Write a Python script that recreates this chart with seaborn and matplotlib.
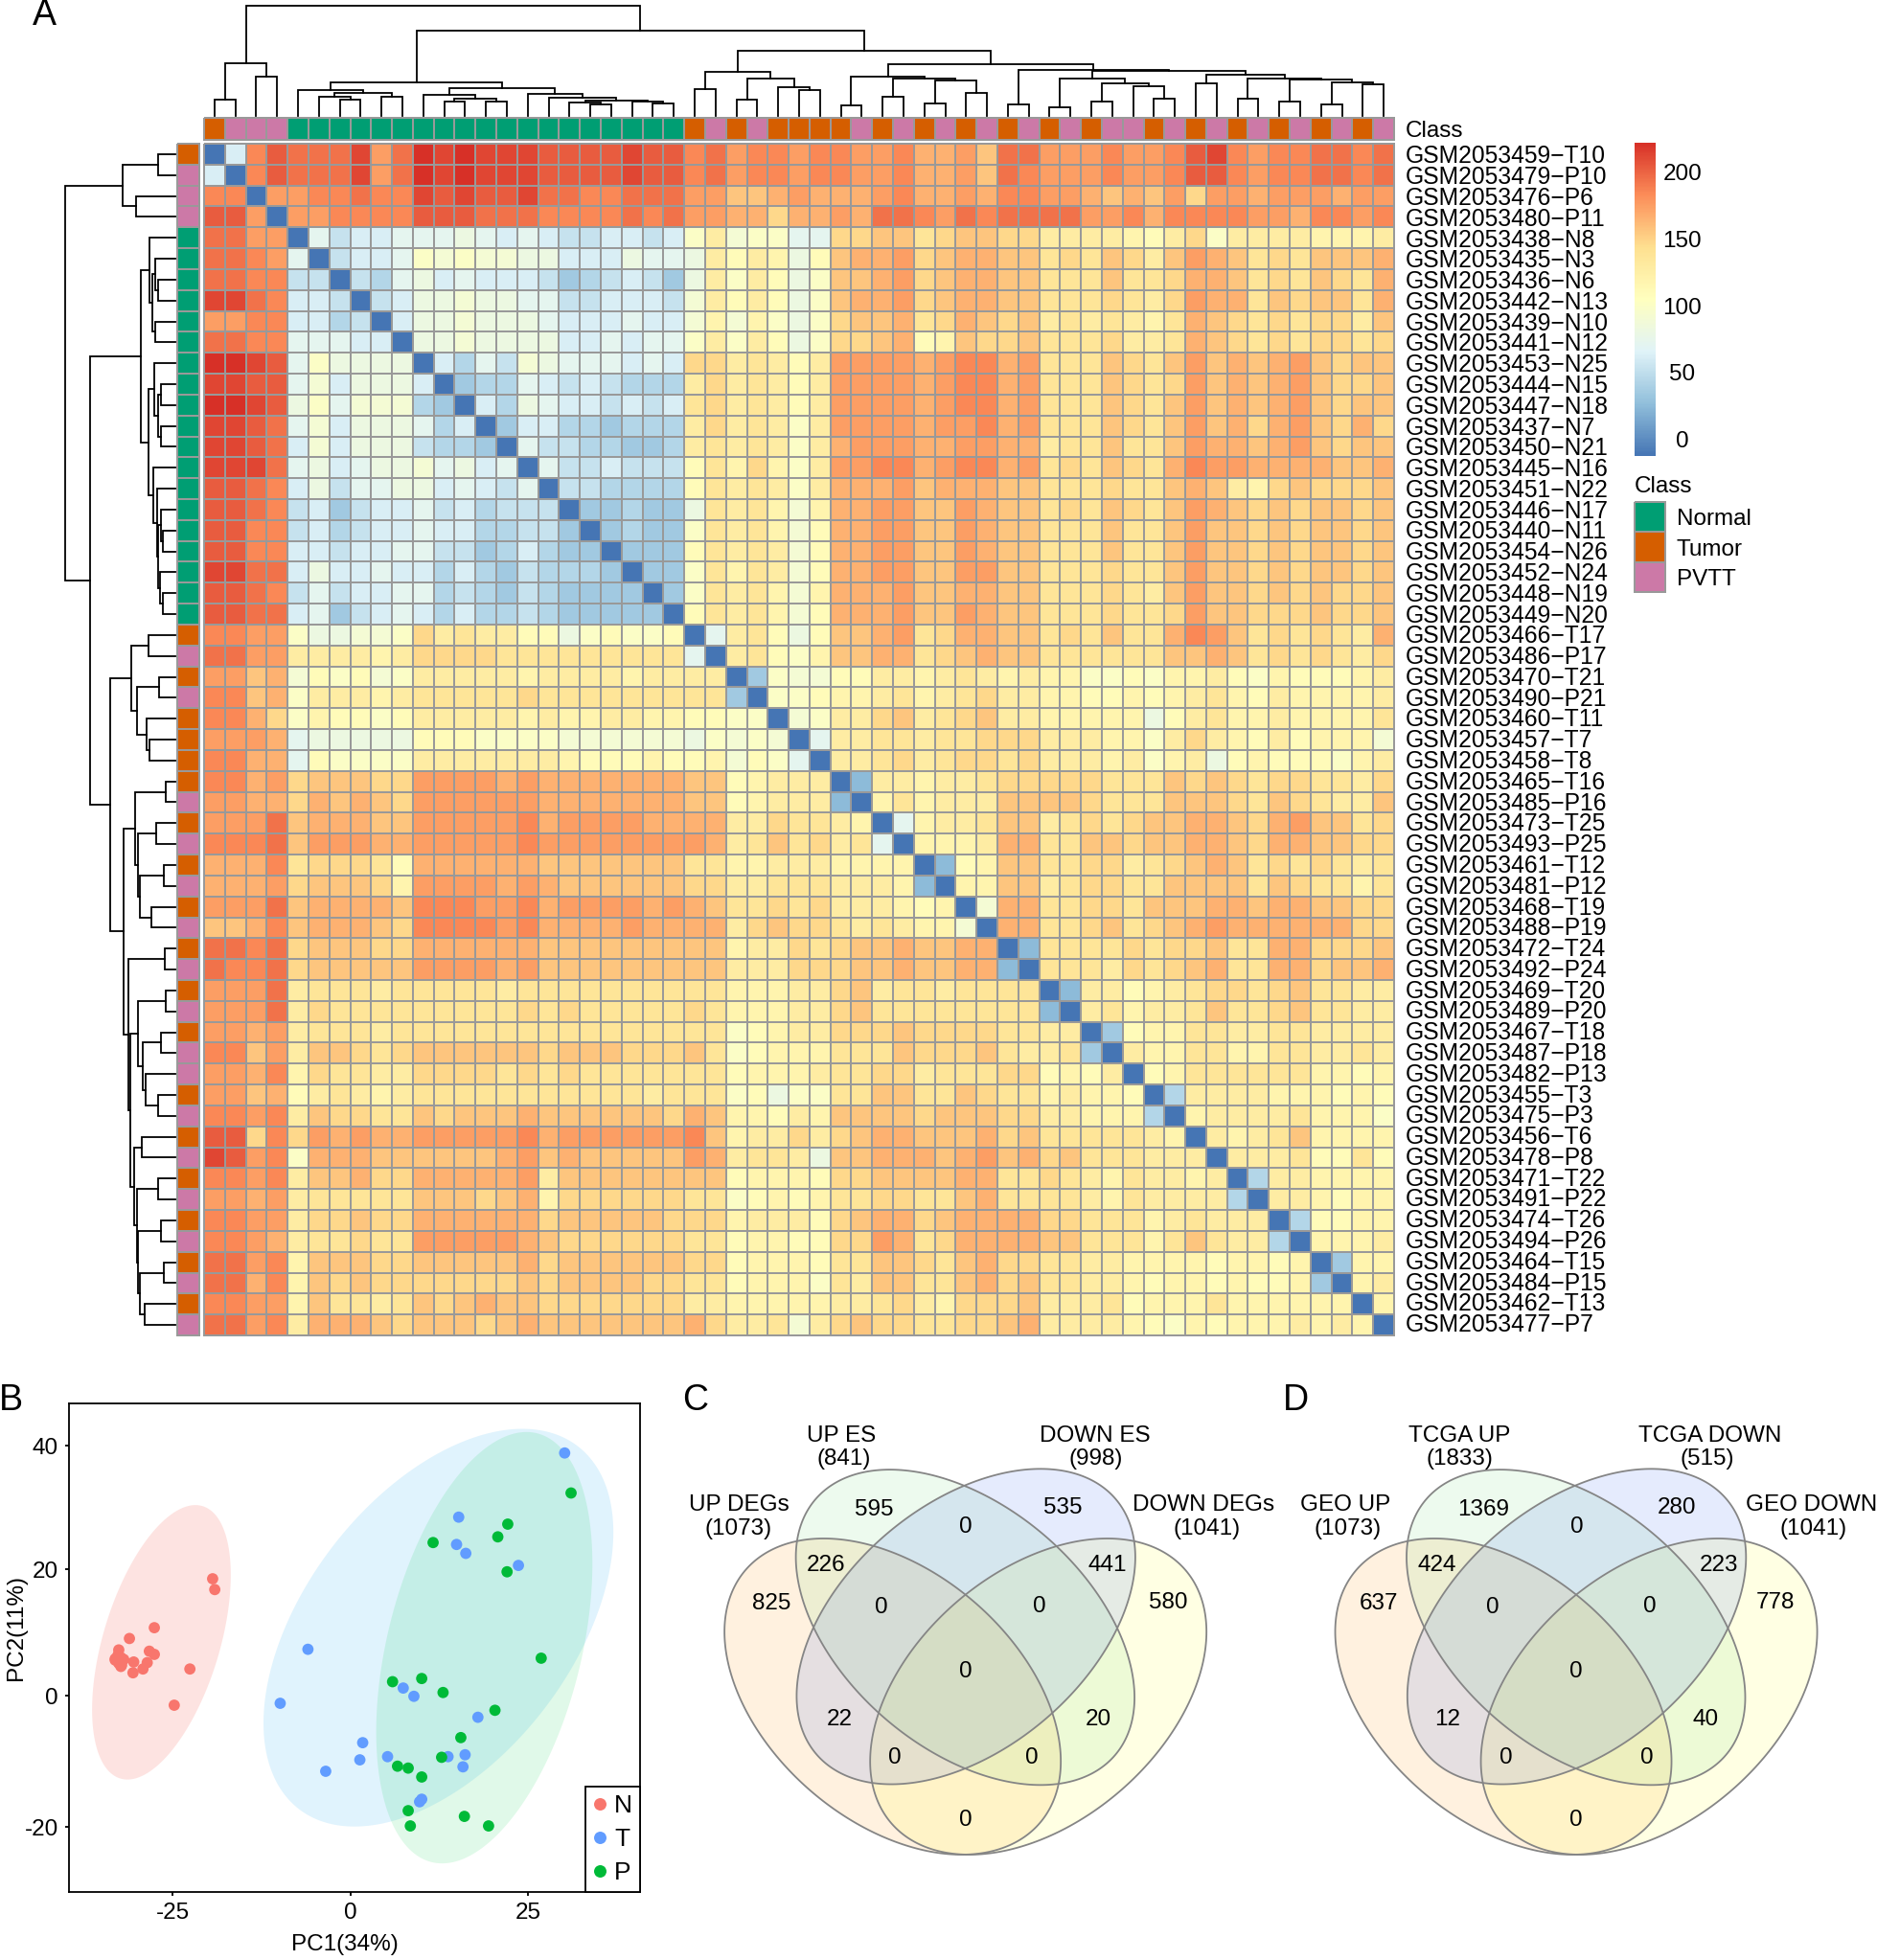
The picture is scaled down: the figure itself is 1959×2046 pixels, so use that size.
import numpy as np
import pandas as pd
import matplotlib
matplotlib.use("Agg")
import matplotlib.pyplot as plt
from matplotlib.colors import LinearSegmentedColormap, ListedColormap
import seaborn as sns

plt.rcParams['font.family'] = ['Liberation Sans', 'DejaVu Sans']
plt.rcParams['axes.unicode_minus'] = False

# ---- panel A data ----
sample_names = [
    "GSM2053459−T10", "GSM2053479−P10", "GSM2053476−P6", "GSM2053480−P11", "GSM2053438−N8", "GSM2053435−N3",
    "GSM2053436−N6", "GSM2053442−N13", "GSM2053439−N10", "GSM2053441−N12", "GSM2053453−N25", "GSM2053444−N15",
    "GSM2053447−N18", "GSM2053437−N7", "GSM2053450−N21", "GSM2053445−N16", "GSM2053451−N22", "GSM2053446−N17",
    "GSM2053440−N11", "GSM2053454−N26", "GSM2053452−N24", "GSM2053448−N19", "GSM2053449−N20", "GSM2053466−T17",
    "GSM2053486−P17", "GSM2053470−T21", "GSM2053490−P21", "GSM2053460−T11", "GSM2053457−T7", "GSM2053458−T8",
    "GSM2053465−T16", "GSM2053485−P16", "GSM2053473−T25", "GSM2053493−P25", "GSM2053461−T12", "GSM2053481−P12",
    "GSM2053468−T19", "GSM2053488−P19", "GSM2053472−T24", "GSM2053492−P24", "GSM2053469−T20", "GSM2053489−P20",
    "GSM2053467−T18", "GSM2053487−P18", "GSM2053482−P13", "GSM2053455−T3", "GSM2053475−P3", "GSM2053456−T6",
    "GSM2053478−P8", "GSM2053471−T22", "GSM2053491−P22", "GSM2053474−T26", "GSM2053494−P26", "GSM2053464−T15",
    "GSM2053484−P15", "GSM2053462−T13", "GSM2053477−P7",
]

# upper triangle of the sample distance matrix, each row starts at the diagonal
# one letter per cell: a=0, b=9, c=18 ... z=225
dist_upper = [
    "aivx wwwyuw zyzyyy xxxxyxx vwuvvuv vuuvttus wwuuuvuuv xyvuvvwwvw",
    "avx wwwyuw zyzyyy xxxxyxx vwuvvuv vuuvttus wvuuuvuuv xxvuvvwwvw",
    "au uvvwvv yxyxxy wwvvwww uusstut ttuvttut vvuutstsu ruutuuutuu",
    "a uuvvvv xxxwww vvvvwvw uuttrtt utwwvuwv wwwwuuvtv vvvuutvvuv",
    "ajhiij jjkjij ihhiihi mplmmjj rrssqrss rrppppo" + "np rmppppooop",
    "ahiij mlmllk kiiikjj kpnpokn stturstt ssqrqsrps utsqrqssst",
    "ahgj kijiii hfghihf kpmpnkm ssturstt ssqqqsqqr ttsqrqsrqt",
    "ahi kklkkj jhhiiih lpnpnkm stturstt ssqqqrqpr uttqsrssqt",
    "ai kklkkk jiiijii lolomkm rsstqrts rspqpqpoq tsrqrqrrps",
    "a kklkkk kiijijj mpmpnkm rrstnosr rsqqqrppq tsrqrqrrqr",
    "aigjhl kjjjiji rrpqpnp uuuutuvv tuqqqsrqs uststusrss",
    "afggj ihihggg prpqpnp uuuutuvv tuqqqsrqr uststusrrs",
    "aigk jiihihi qrpqpnp uuuutuvv tuqqqsrqs uststusrss",
    "afi iggfggg prpqpmp uuuutuuv tuqqqsrqs ustrtusrtr",
    "aj hhggffg pqpqpmp tuuuttuu ttpqqsqqs uttstusrss",
    "a jhhihhh nqoromp uuvvtuvv tuqrqsrqt vuuttttsst",
    "ahhgggg nqpqpmp tttusttt ssqqqrqqs tsporsrrrs",
    "affgff kqpqolo ttuussut ssqrqsrqs utsrsrssrs",
    "afgff mqpqoln ttuussut ssqqqsqqs ussrsrssrs",
    "afff nqpqpln ttuussut ssqqqsqqs ussrsrssrs",
    "aff mqoqpln ttuussuu ssqqqrqqs ussrsrssrs",
    "af mqpqolo tttusstt ssqqqrqps ussrsrsrrs",
    "a nqpqoln tttussut ssqqqrqqr ussrrrsrrs",
    "ajpqnkn sstuqrtt ssqrqsqqt vusqrqrqpt",
    "apqnmo ssttqrst ssqqqqqqs stsqrqrqpr",
    "afmll nnppopqp opoommnmo opnmonnnop",
    "ammn oopqopqr ppoonnono pqonpoooop",
    "alm pprspqrs ppoooookn pqoopooooq",
    "aj ppqqpqqr rrpppoomp rponpnoool",
    "a ppqrpqrr qrpppopmo pknonnnmop",
    "ae ppoppq rrrrrqqqs rsrqrrqqpr",
    "aoqoppp ssssrqqqs ssrqsrqpps",
    "ajoppq sspqrqrss ttsrtussqr",
    "aooop ttqqssrss ttsrttssrr",
    "aeno ssqqrrpqr stsqrqrqpq",
    "aoo sspqrrqqs sssqsrqqoq",
    "al ttqqrrqss sttsttssrr",
    "a ttqqrsqrs tuttttttrr",
    "ae qqqqrqr rsqqttrrrs",
    "a qqqprqr stqqttrsst",
    "ae ppnop qrrqrsqqpp",
    "apqopp qsqqrsqqpp",
    "afnoo qqppqqpppp",
    "apoo qqooqqppqp",
    "ano qqqqqqoono",
    "ag ppppooonon",
    "a oppppqooom",
    "apopqsoooo",
    "apppqnnqn",
    "agppoooo",
    "apponoo",
    "agnnoo",
    "aooop",
    "afoo",
    "aop",
    "ao",
    "a",
]

# merge trees as (height, left, right), leaves are positions in sample_names
row_tree = (236, (113, (36, 0, 1), (84, 2, 3)),
            (182,
             (73, (55, 4, (48, (42, 5, (36, 6, 7)), (42, 8, 9))),
              (57, (45, 10, (37, (30, 11, 12), (31, 13, 14))),
               (47, 15, (39, 16, (36, (31, 17, (26, 18, 19)), (32, 20, (27, 21, 22))))))),
             (140,
              (95, (57, 23, 24), (81, (35, 25, 26), (61, 27, (55, 28, 29)))),
              (111,
               (85, (21, 30, 31), (80, (41, 32, 33), (75, (25, 34, 35), (50, 36, 37)))),
               (100, (23, 38, 39),
                (97,
                 (79, (19, 40, 41), (69, (31, 42, 43), (63, 44, (37, 45, 46)))),
                 (88, (72, 47, 48),
                  (82, (37, 49, 50), (79, (30, 51, 52), (75, (24, 53, 54), (65, 55, 56)))))))))))

col_tree = (256, (121, (37, 0, 1), (90, 2, 3)),
            (197,
             (78, (60, 4, (52, (44, 5, (38, 6, 7)), (44, 8, 9))),
              (63, (48, 10, (40, (32, 11, 12), (32, 13, 14))),
               (50, 15, (42, 16, (35, (30, 17, (25, 18, 19)), (32, 20, (29, 21, 22))))))),
             (152,
              (102, (61, 23, 24), (87, (37, 25, 26), (65, 27, (59, 28, 29)))),
              (120,
               (90, (23, 30, 31), (86, (44, 32, 33), (81, (27, 34, 35), (53, 36, 37)))),
               (107, (25, 38, 39),
                (104,
                 (87, (20, 40, 41), (74, (33, 42, 43), (68, 44, (39, 45, 46)))),
                 (95, (76, 47, 48),
                  (87, (39, 49, 50), (84, (32, 51, 52), (78, (26, 53, 54), (72, 55, 56)))))))))))

class_names = ["Normal", "Tumor", "PVTT"]
class_colors = ["#009E73", "#D55E00", "#CC79A7"]
heat_colors = ["#4575B4", "#91BFDB", "#E0F3F8", "#FFFFBF", "#FEE090", "#FC8D59", "#D73027"]
cbar_labels = ["0", "50", "100", "150", "200"]
cbar_label_pos = [12, 60, 108, 156, 204]  # the labels sit off the true scale in the figure

# ---- panel B data ----
pc1_n = [-19.4, -19.1, -27.6, -31.1, -32.6, -28.3, -27.6, -33.1, -32.3, -32.2, -32.3, -30.5,
         -28.6, -29.2, -30.6, -22.6, -24.8, -32.6, -31.9, -32.7, -32.2, -32.6, -33.1]
pc2_n = [18.4, 16.7, 10.7, 9.0, 7.2, 7.0, 6.5, 5.6, 6.0, 5.4, 4.6, 5.3,
         5.2, 4.2, 3.6, 4.2, -1.5, 5.7, 5.7, 6.4, 4.8, 5.1, 5.8]
pc1_t = [30.1, 15.2, 14.9, 16.2, 23.6, -6.0, -9.9, 7.4, 8.9, 17.9, 1.7, 1.3, -3.5, 5.2, 13.7, 16.1, 15.8, 10.0, 9.7]
pc2_t = [38.2, 28.1, 23.8, 22.4, 20.5, 7.3, -1.2, 1.2, -0.1, -3.4, -7.4, -10.1, -11.9, -9.6, -9.6, -9.3, -11.2, -16.3, -16.7]
pc1_p = [31.0, 22.1, 20.7, 11.6, 22.0, 26.8, 10.0, 5.9, 13.0, 20.3, 15.5, 12.8, 6.6, 8.1, 10.0, 8.1, 8.4, 16.0, 19.4]
pc2_p = [31.9, 27.0, 25.0, 24.1, 19.5, 5.9, 2.7, 2.2, 0.5, -2.3, -6.6, -9.7, -11.1, -11.4, -12.8, -18.1, -20.5, -19.0, -20.5]
pc2_tick_pos = [-20.7, 0, 19.9, 39.3]  # tick marks are not quite evenly spaced in the figure
pc2_tick_labels = ["-20", "0", "20", "40"]

# confidence ellipses for N, T, P: centre, half extents, correlation
ell_cx = [-26.6, 12.35, 18.8]
ell_cy = [8.4, 10.7, 7.55]
ell_sx = [9.75, 24.6, 15.2]
ell_sy = [21.6, 31.3, 33.95]
ell_rho = [0.49, 0.48, 0.39]
ell_fill = ["#F8766D", "#00A0F0", "#00D04A"]
ell_alpha = [0.2, 0.12, 0.12]
group_colors = {"N": "#F8766D", "T": "#619CFF", "P": "#00BA38"}

# ---- panels C and D data ----
venn_cx = [567.5, 940, 753, 755]
venn_cy = [868, 868, 684, 682]
venn_sx = [430, 430, 433, 433]
venn_sy = [420, 420, 419, 419]
venn_rho = [0.41, -0.41, 0.445, -0.44]
venn_fill = ["#FFA22A", "#FFFF44", "#87DE8E", "#527AF2"]

num_x = [258, 519, 1002, 1271, 398, 755, 1117, 538, 942, 753, 432, 1094, 574, 924, 753]
num_y = [622, 372, 367, 619, 520, 418, 518, 630, 628, 803, 930, 930, 1031, 1031, 1196]
c_counts = ["825", "595", "535", "580", "226", "0", "441", "0", "0", "0", "22", "20", "0", "0", "0"]
c_titles = ["UP ES", "(841)", "DOWN ES", "(998)", "UP DEGs", "(1073)", "DOWN DEGs", "(1041)"]
c_title_x = [436, 443, 1086, 1086, 176, 172, 1363, 1370]
d_num_x = [248, 517, 1011, 1262, 398, 755, 1119, 539, 942, 753, 425, 1084, 575, 935, 753]
d_counts = ["637", "1369", "280", "778", "424", "0", "223", "0", "0", "0", "12", "40", "0", "0", "0"]
d_titles = ["TCGA UP", "(1833)", "TCGA DOWN", "(515)", "GEO UP", "(1073)", "GEO DOWN", "(1041)"]
d_title_x = [455, 455, 1095, 1089, 164, 170, 1355, 1360]
title_y = [175, 237, 175, 237, 360, 423, 360, 423]

FIG_W, FIG_H = 1959, 2046
GRID = "#999999"
TEXT_SIZE = 17.5


def px_axes(left, top, right, bottom):
    return fig.add_axes([left / FIG_W, 1 - bottom / FIG_H, (right - left) / FIG_W, (bottom - top) / FIG_H])


def draw_tree(ax, node, horizontal):
    # returns (leaf position, height) of the node and draws its bracket
    if isinstance(node, int):
        return node + 0.5, 0
    h, left, right = node
    p1, h1 = draw_tree(ax, left, horizontal)
    p2, h2 = draw_tree(ax, right, horizontal)
    pos = [p1, p1, p2, p2]
    hts = [h1, h, h, h2]
    if horizontal:
        ax.plot(pos, hts, color="black", lw=1.3, clip_on=False, solid_joinstyle="miter")
    else:
        ax.plot(hts, pos, color="black", lw=1.3, clip_on=False, solid_joinstyle="miter")
    return (p1 + p2) / 2, h


def fill_ellipse(ax, cx, cy, sx, sy, rho, **kw):
    t = np.linspace(0, 2 * np.pi, 300)
    x = cx + sx * np.cos(t)
    y = cy + sy * (rho * np.cos(t) + np.sqrt(1 - rho ** 2) * np.sin(t))
    ax.fill(x, y, **kw)


# build the symmetric matrix
n = len(sample_names)
dist = np.zeros((n, n))
for i, row in enumerate(dist_upper):
    codes = row.replace(" ", "")
    assert len(codes) == n - i, (i, len(codes))
    dist[i, i:] = [(ord(c) - 97) * 9 for c in codes]
dist = dist + np.triu(dist, 1).T
dist_df = pd.DataFrame(dist, index=sample_names, columns=sample_names)

class_key = {"N": 0, "T": 1, "P": 2}
class_codes = np.array([class_key[s.split("−")[1][0]] for s in sample_names])

fig = plt.figure(figsize=(FIG_W / 100, FIG_H / 100), dpi=100)
heat_cmap = LinearSegmentedColormap.from_list("rdylbu", heat_colors, N=256)
class_cmap = ListedColormap(class_colors)

# ---- panel A ----
ax_heat = px_axes(213, 150, 1455, 1394)
ax_cbar = px_axes(1706, 149, 1728, 476)
sns.heatmap(dist_df, ax=ax_heat, cbar_ax=ax_cbar, cmap=heat_cmap, vmin=0, vmax=225,
            linewidths=1.3, linecolor=GRID, xticklabels=False, yticklabels=sample_names)
ax_heat.collections[0].set_clip_on(False)
ax_heat.yaxis.tick_right()
# the row labels drift slightly above their rows towards the bottom in the figure
ax_heat.set_yticks(np.arange(n) * 0.998 + 0.5, labels=sample_names)
ax_heat.tick_params(axis="y", length=0, pad=8.5, labelsize=17.7, labelrotation=0)

cbar = ax_heat.collections[0].colorbar
cbar.outline.set_visible(False)
cbar.set_ticks(cbar_label_pos, labels=cbar_labels)
cbar.ax.tick_params(length=0, pad=20, labelsize=TEXT_SIZE)
for t in cbar.ax.get_yticklabels():
    t.set_ha("center")

ax_top = px_axes(213, 123, 1455, 146)
sns.heatmap(class_codes[None, :], ax=ax_top, cmap=class_cmap, vmin=0, vmax=2, cbar=False,
            linewidths=1.3, linecolor=GRID, xticklabels=False, yticklabels=["Class"])
ax_top.collections[0].set_clip_on(False)
ax_top.yaxis.tick_right()
ax_top.tick_params(axis="y", length=0, pad=8.5, labelsize=TEXT_SIZE, labelrotation=0)

ax_side = px_axes(185, 150, 208, 1394)
sns.heatmap(class_codes[:, None], ax=ax_side, cmap=class_cmap, vmin=0, vmax=2, cbar=False,
            linewidths=1.3, linecolor=GRID, xticklabels=False, yticklabels=False)
ax_side.collections[0].set_clip_on(False)

ax_dtop = px_axes(213, 6, 1455, 120.5)
draw_tree(ax_dtop, col_tree, True)
ax_dtop.set_xlim(0, n)
ax_dtop.set_ylim(0, col_tree[0])
ax_dtop.axis("off")

ax_dleft = px_axes(68.3, 150, 182.7, 1394)
draw_tree(ax_dleft, row_tree, False)
ax_dleft.set_ylim(n, 0)
ax_dleft.set_xlim(row_tree[0], 0)
ax_dleft.axis("off")

# class legend
ax_leg = px_axes(1706, 524, 1737.5, 618)
sns.heatmap(np.arange(3)[:, None], ax=ax_leg, cmap=class_cmap, vmin=0, vmax=2, cbar=False,
            linewidths=1.3, linecolor=GRID, xticklabels=False, yticklabels=class_names)
ax_leg.collections[0].set_clip_on(False)
ax_leg.yaxis.tick_right()
ax_leg.tick_params(axis="y", length=0, pad=9, labelsize=TEXT_SIZE, labelrotation=0)
fig.text(1705.5 / FIG_W, 1 - 508.5 / FIG_H, "Class", fontsize=TEXT_SIZE, va="center", ha="left")

# ---- panel B ----
pc_df = pd.DataFrame({
    "PC1": pc1_n + pc1_t + pc1_p,
    "PC2": pc2_n + pc2_t + pc2_p,
    "group": ["N"] * len(pc1_n) + ["T"] * len(pc1_t) + ["P"] * len(pc1_p),
})
ax_pca = px_axes(72, 1465, 668, 1975)
for k in range(3):
    fill_ellipse(ax_pca, ell_cx[k], ell_cy[k], ell_sx[k], ell_sy[k], ell_rho[k],
                 color=ell_fill[k], alpha=ell_alpha[k], lw=0)
sns.scatterplot(data=pc_df, x="PC1", y="PC2", hue="group", hue_order=["N", "T", "P"],
                palette=group_colors, s=72, linewidth=0, ax=ax_pca, zorder=3)
ax_pca.set_xlim(-39.6, 40.7)
ax_pca.set_ylim(-30.9, 46)
ax_pca.set_xticks([-25, 0, 25])
ax_pca.set_yticks(pc2_tick_pos, labels=pc2_tick_labels)
ax_pca.tick_params(length=3, width=1.3, labelsize=TEXT_SIZE, pad=5)
ax_pca.set_xlabel("PC1(34%)", fontsize=TEXT_SIZE)
ax_pca.set_ylabel("PC2(11%)", fontsize=TEXT_SIZE)
ax_pca.xaxis.set_label_coords(0.483, -0.086)
ax_pca.yaxis.set_label_coords(-0.074, 0.541)
for s in ax_pca.spines.values():
    s.set_linewidth(1.3)
leg = ax_pca.legend(loc="lower right", borderaxespad=0, fancybox=False, framealpha=1, edgecolor="black",
                    fontsize=19, handlelength=0.55, handletextpad=0.3, labelspacing=0.42, borderpad=0.3,
                    markerscale=1.1)
leg.get_frame().set_linewidth(1.3)


# ---- panels C and D ----
def draw_venn(ax, counts, count_x, titles, titles_x):
    for k in range(4):
        fill_ellipse(ax, venn_cx[k], venn_cy[k], venn_sx[k], venn_sy[k], venn_rho[k],
                     facecolor=venn_fill[k], alpha=0.15, lw=0)
    for k in range(4):
        fill_ellipse(ax, venn_cx[k], venn_cy[k], venn_sx[k], venn_sy[k], venn_rho[k],
                     facecolor="none", edgecolor="#858585", lw=1.3)
    for x, y, c in zip(count_x, num_y, counts):
        ax.text(x, y, c, ha="center", va="center", fontsize=TEXT_SIZE)
    for x, y, c in zip(titles_x, title_y, titles):
        ax.text(x, y, c, ha="center", va="center", fontsize=TEXT_SIZE)
    ax.set_ylim(1568, 0)
    ax.axis("off")


ax_c = px_axes(700, 1430, 1320, 2046)
ax_c.set_xlim(0, 1519)
draw_venn(ax_c, c_counts, num_x, c_titles, c_title_x)
ax_d = px_axes(1337.4, 1430, 1957.4, 2046)
ax_d.set_xlim(0, 1519)
draw_venn(ax_d, d_counts, d_num_x, d_titles, d_title_x)

# panel letters
for letter, x, y in zip("ABCD", [46, 11, 726, 1352], [16, 1462.5, 1462.5, 1462.5]):
    fig.text(x / FIG_W, 1 - y / FIG_H, letter, fontsize=27, ha="center", va="center")

fig.savefig("out.png", dpi=100)
